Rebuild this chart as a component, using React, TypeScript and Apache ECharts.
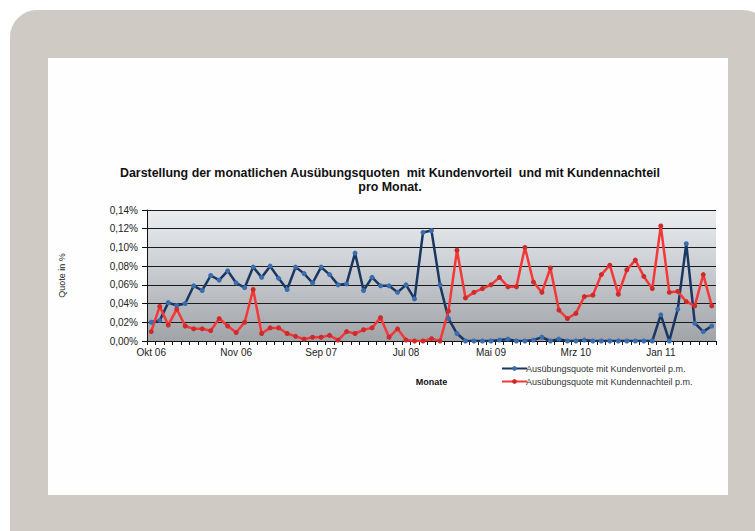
import React, { useEffect, useRef } from "react";
import * as echarts from "echarts";

const tickLabels = ["Okt 06", "Nov 06", "Sep 07", "Jul 08", "Mai 09", "Mrz 10", "Jan 11"];
const categoryCount = 67;
const categories = Array.from({ length: categoryCount }, (_, i) =>
  i % 10 === 0 ? tickLabels[i / 10] : `M${i + 1}`
);

const vorteil = [
  0.020, 0.022, 0.041, 0.038, 0.040, 0.059, 0.054, 0.070, 0.065, 0.075,
  0.062, 0.057, 0.079, 0.068, 0.080, 0.067, 0.055, 0.079, 0.072, 0.062,
  0.079, 0.071, 0.060, 0.061, 0.094, 0.054, 0.068, 0.059, 0.059, 0.052,
  0.060, 0.045, 0.116, 0.118, 0.060, 0.024, 0.008, 0.000, 0.000, 0.000,
  0.000, 0.001, 0.002, 0.000, 0.000, 0.001, 0.004, 0.000, 0.002, 0.000,
  0.000, 0.001, 0.000, 0.000, 0.000, 0.000, 0.000, 0.000, 0.000, 0.000,
  0.028, 0.000, 0.034, 0.104, 0.019, 0.010, 0.016,
];

const nachteil = [
  0.010, 0.037, 0.017, 0.034, 0.016, 0.013, 0.013, 0.011, 0.024, 0.016,
  0.009, 0.020, 0.055, 0.008, 0.014, 0.014, 0.008, 0.005, 0.002, 0.004,
  0.004, 0.006, 0.001, 0.010, 0.008, 0.012, 0.014, 0.025, 0.004, 0.013,
  0.001, 0.000, 0.000, 0.0025, 0.000, 0.032, 0.097, 0.046, 0.052, 0.056,
  0.060, 0.068, 0.058, 0.058, 0.100, 0.063, 0.052, 0.078, 0.033, 0.024,
  0.0295, 0.0475, 0.049, 0.071, 0.081, 0.050, 0.076, 0.0865, 0.069, 0.056,
  0.123, 0.052, 0.053, 0.042, 0.0375, 0.071, 0.0375,
];

const seriesNames = [
  "Ausübungsquote mit Kundenvorteil p.m.",
  "Ausübungsquote mit Kundennachteil p.m.",
];

const titleLines = [
  "Darstellung der monatlichen Ausübungsquoten  mit Kundenvorteil  und mit Kundennachteil",
  "pro Monat.",
];

const FONT = "'Liberation Sans', Arial, sans-serif";

export default function App() {
  const ref = useRef<HTMLDivElement>(null);

  useEffect(() => {
    if (!ref.current) return;
    const chart = echarts.init(ref.current, undefined, { renderer: "svg" });
    chart.setOption({
      animation: false,
      backgroundColor: "#ffffff",
      textStyle: { fontFamily: FONT },
      graphic: [
        {
          type: "rect",
          z: -10,
          silent: true,
          shape: { x: 10, y: 10, width: 760, height: 540, r: [27, 27, 0, 0] },
          style: { fill: "#cfcac3" },
        },
        {
          type: "rect",
          z: -9,
          silent: true,
          shape: { x: 48, y: 58, width: 680, height: 437 },
          style: { fill: "#fefefe" },
        },
        {
          type: "text",
          x: 390,
          y: 173,
          style: {
            text: titleLines[0],
            fill: "#111",
            font: `bold 12.4px ${FONT}`,
            textAlign: "center",
            textVerticalAlign: "middle",
          },
        },
        {
          type: "text",
          x: 390,
          y: 187,
          style: {
            text: titleLines[1],
            fill: "#111",
            font: `bold 12.4px ${FONT}`,
            textAlign: "center",
            textVerticalAlign: "middle",
          },
        },
      ],
      grid: {
        left: 147,
        right: 39,
        top: 210,
        bottom: 190,
        show: true,
        borderWidth: 0,
        backgroundColor: {
          type: "linear",
          x: 0,
          y: 0,
          x2: 0,
          y2: 1,
          colorStops: [
            { offset: 0, color: "#ebeef1" },
            { offset: 0.5, color: "#c6c9cd" },
            { offset: 1, color: "#a0a4a9" },
          ],
        },
      },
      legend: {
        orient: "vertical",
        left: 496,
        top: 359,
        itemWidth: 25,
        itemHeight: 6,
        itemGap: 4,
        textStyle: { fontSize: 9, color: "#333", fontFamily: FONT, padding: [0, 0, 0, -6] },
        data: seriesNames,
      },
      xAxis: {
        type: "category",
        data: categories,
        boundaryGap: true,
        name: "Monate",
        nameLocation: "middle",
        nameGap: 36,
        nameTextStyle: { fontSize: 9, fontWeight: "bold", color: "#111", fontFamily: FONT },
        axisLine: { lineStyle: { color: "#111", width: 1 } },
        axisTick: { show: true, interval: 0, length: 4, lineStyle: { color: "#111" } },
        axisLabel: { interval: 9, fontSize: 10, color: "#222", margin: 6, fontFamily: FONT },
        splitLine: { show: false },
      },
      yAxis: {
        type: "value",
        min: 0,
        max: 0.14,
        interval: 0.02,
        name: "Quote in %",
        nameLocation: "middle",
        nameRotate: 90,
        nameGap: 81,
        nameTextStyle: { fontSize: 9, color: "#222", fontFamily: FONT },
        axisLine: { show: true, lineStyle: { color: "#111", width: 1 } },
        axisTick: { show: true, length: 5, lineStyle: { color: "#111" } },
        axisLabel: {
          fontSize: 10,
          color: "#222",
          margin: 9,
          fontFamily: FONT,
          formatter: (v: number) => v.toFixed(2).replace(".", ",") + "%",
        },
        splitLine: { show: true, lineStyle: { color: "#1a1a1a", width: 1 } },
      },
      series: [
        {
          name: seriesNames[0],
          type: "line",
          data: vorteil,
          symbol: "circle",
          symbolSize: 5,
          lineStyle: { color: "#1a3762", width: 2.5 },
          itemStyle: { color: "#3a6cb0" },
        },
        {
          name: seriesNames[1],
          type: "line",
          data: nachteil,
          symbol: "circle",
          symbolSize: 5,
          lineStyle: { color: "#f43838", width: 2.5 },
          itemStyle: { color: "#cc2c2c" },
        },
      ],
    });
    return () => chart.dispose();
  }, []);

  return (
    <div
      ref={ref}
      style={{ position: "fixed", left: 0, top: 0, width: 755, height: 531 }}
    />
  );
}
